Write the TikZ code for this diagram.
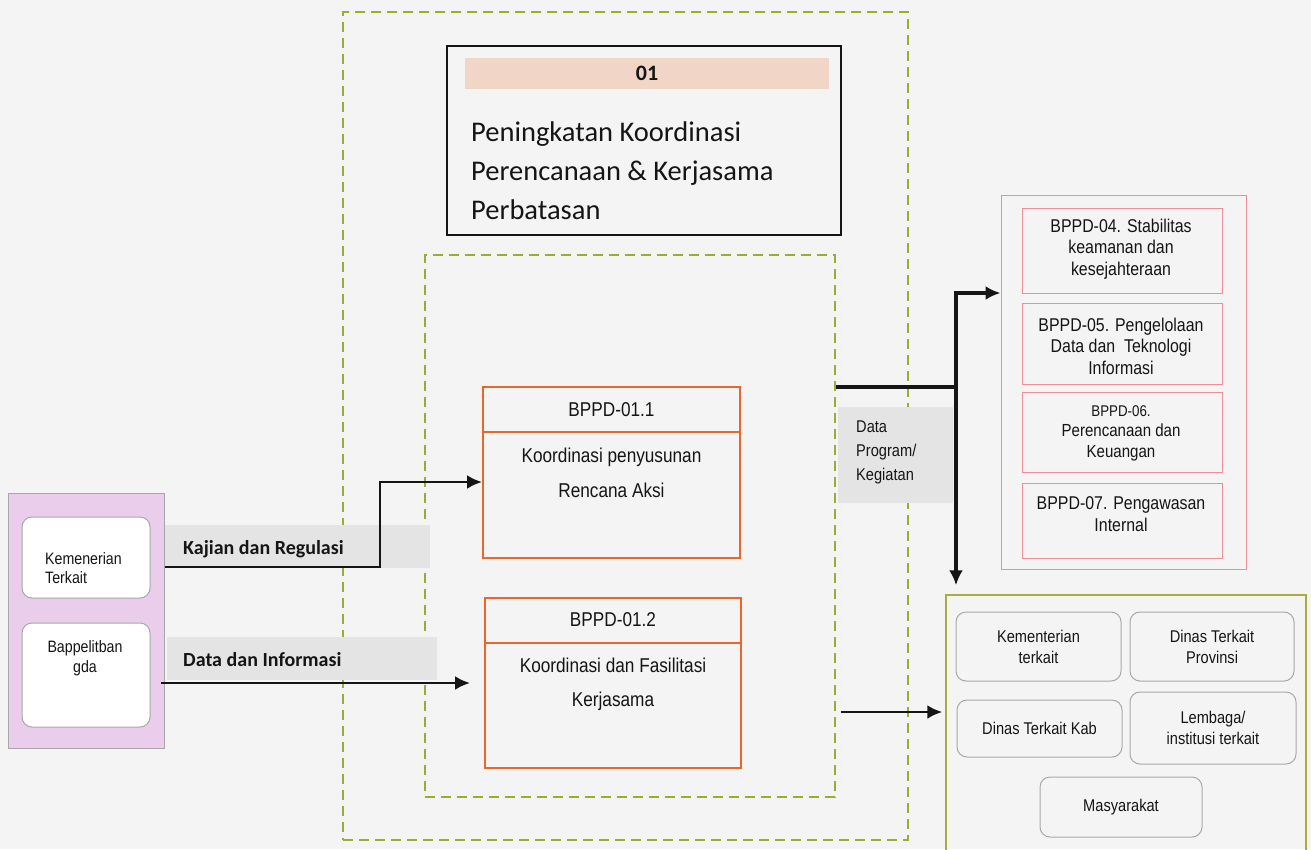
\documentclass[tikz,border=0pt]{standalone}
\usepackage{fontspec}
\setmainfont[FakeStretch=0.86]{Liberation Sans}
\newfontfamily\calfont{Carlito}
\usetikzlibrary{arrows.meta}

\definecolor{bg}{HTML}{F4F4F4}
\definecolor{olivedash}{HTML}{9DAA33}
\definecolor{olivebox}{HTML}{A9AD3E}
\definecolor{orng}{HTML}{E8672C}
\definecolor{pinkln}{HTML}{EE8E9A}
\definecolor{lilac}{HTML}{EACDEB}
\definecolor{peach}{HTML}{F1D5C6}
\definecolor{bandgray}{HTML}{E4E4E4}
\definecolor{rgray}{HTML}{A8A8A8}
\definecolor{ink}{HTML}{151515}

\tikzset{
  dashbox/.style={draw=olivedash, line width=1.5pt, dash pattern=on 10pt off 6pt},
  obox/.style={draw=orng, line width=2pt},
  rbox/.style={draw=pinkln, line width=1pt},
  rounded/.style={draw=rgray, line width=1pt, rounded corners=10pt},
  band/.style={fill=bandgray, inner sep=0pt},
  conn/.style={draw=ink, line width=2.6pt, -{Latex[length=15pt,width=14pt]}},
  txt/.style={inner sep=0pt, text=ink, align=center},
  sz/.style 2 args={minimum width=#1pt, minimum height=#2pt, inner sep=0pt},
  fs/.style 2 args={font=\fontsize{#1}{#2}\selectfont},
}

\begin{document}
\begin{tikzpicture}[x=1pt,y=-1pt]
  \fill[bg] (0,0) rectangle (1311,849);
  \useasboundingbox (0,0) rectangle (1311,849);

  % dashed groupings
  \node[dashbox, sz={565}{828}] (outer) at (625.5,426) {};
  \node[dashbox, sz={410}{542}] (inner) at (630,526) {};

  % programme title
  \node[draw=ink, line width=1.8pt, sz={394}{189}] (title) at (644,140.5) {};
  \node[fill=peach, sz={364}{31}, text=ink, font=\calfont\bfseries\fontsize{22}{26}\selectfont] (num) at (647,73.5) {01};
  \node[txt, anchor=west, align=left, font=\calfont\fontsize{28.5}{39}\selectfont] (ttxt) at (471,171)
    {Peningkatan Koordinasi\\Perencanaan \& Kerjasama\\Perbatasan};

  % activities
  \node[obox, sz={257}{171}] (b11) at (611.5,472.5) {};
  \draw[orng, line width=2pt] (b11.west |- 0,432) -- (b11.east |- 0,432);
  \node[txt, fs={20}{36}] (b11h) at (611.5,410) {BPPD-01.1};
  \node[txt, fs={20}{35.5}] (b11t) at (611.5,473) {Koordinasi penyusunan\\Rencana Aksi};

  \node[obox, sz={256}{170}] (b12) at (613,683) {};
  \draw[orng, line width=2pt] (b12.west |- 0,643) -- (b12.east |- 0,643);
  \node[txt, fs={20}{36}] (b12h) at (613,620) {BPPD-01.2};
  \node[txt, fs={20}{34}] (b12t) at (613,684.5) {Koordinasi dan Fasilitasi\\Kerjasama};

  % sources
  \node[fill=lilac, draw=rgray, line width=1pt, sz={156}{255}] (src) at (86,620.5) {};
  \node[rounded, fill=white, sz={128}{81}] (kem) at (86,557.5) {};
  \node[txt, anchor=west, align=left, fs={16.5}{18.5}] (kemt) at (45,568) {Kemenerian\\Terkait};
  \node[rounded, fill=white, sz={128}{104}] (bap) at (86,675) {};
  \node[txt, fs={16.5}{19.5}] (bapt) at (85,658) {Bappelitban\\gda};

  % flow labels
  \node[band, sz={265}{43}] (bandA) at (297.5,546.5) {};
  \node[txt, anchor=west, text=ink, font=\calfont\bfseries\fontsize{20}{24}\selectfont] (labA) at (183,549) {Kajian dan Regulasi};
  \node[band, sz={270}{43}] (bandB) at (302,658.5) {};
  \node[txt, anchor=west, text=ink, font=\calfont\bfseries\fontsize{20}{24}\selectfont] (labB) at (183,660) {Data dan Informasi};
  \node[band, sz={115}{96}] (bandC) at (895.5,455) {};
  \node[txt, anchor=west, align=left, fs={17}{24}] (labC) at (856,452) {Data\\Program/\\Kegiatan};

  % internal units
  \node[rbox, sz={245}{374}] (grp) at (1123.5,382) {};
  \node[rbox, sz={200}{85}] (r4) at (1122,250.5) {};
  \node[txt, fs={18.5}{21.5}] at (1121,249) {BPPD-04. Stabilitas\\keamanan dan\\kesejahteraan};
  \node[rbox, sz={200}{81}] (r5) at (1122,343.5) {};
  \node[txt, fs={18.5}{21.5}] at (1121,346) {BPPD-05. Pengelolaan\\Data dan\ \ Teknologi\\Informasi};
  \node[rbox, sz={200}{80}] (r6) at (1122,432) {};
  \node[txt, fs={17.5}{20.5}] at (1121,433) {{\fontsize{15.5}{18}\selectfont BPPD-06.}\\Perencanaan dan\\Keuangan};
  \node[rbox, sz={200}{75}] (r7) at (1122,520.5) {};
  \node[txt, fs={18.5}{21.5}] at (1121,514) {BPPD-07. Pengawasan\\Internal};

  % stakeholders
  \node[draw=olivebox, line width=1.5pt, sz={360}{270}] (dest) at (1126,730) {};
  \node[rounded, sz={165}{69}, txt, fs={17}{21}] (k1) at (1038.5,646.5) {Kementerian\\terkait};
  \node[rounded, sz={164}{69}, txt, fs={17}{21}] (k2) at (1212,646.5) {Dinas Terkait\\Provinsi};
  \node[rounded, sz={165}{57}, txt, fs={17}{21}] (k3) at (1039.5,728.5) {Dinas Terkait Kab};
  \node[rounded, sz={166}{72}, txt, fs={17}{21}] (k4) at (1213,728) {Lembaga/\\institusi terkait};
  \node[rounded, sz={162}{60}, txt, fs={17}{21}] (k5) at (1121,807) {Masyarakat};

  % connectors
  \draw[conn] (src.east |- 0,567) -| (380,482) -- (b11.west |- 0,482);
  \draw[conn, shorten >=14pt] ([xshift=-4pt]src.east |- 0,683) -- (b12.west |- 0,683);
  \draw[conn, shorten >=3pt] ([xshift=5pt]inner.east |- 0,712) -- (dest.west |- 0,712);

  \coordinate (hub) at (956,387);
  \draw[draw=ink, line width=3.2pt] (inner.east |- hub) -- (hub);
  \draw[conn, line width=3.2pt] (hub) -- (hub |- 0,293) -- (grp.west |- 0,293);
  \draw[conn, line width=3.2pt, shorten >=9pt] (hub) -- (dest.north -| hub);
\end{tikzpicture}
\end{document}
